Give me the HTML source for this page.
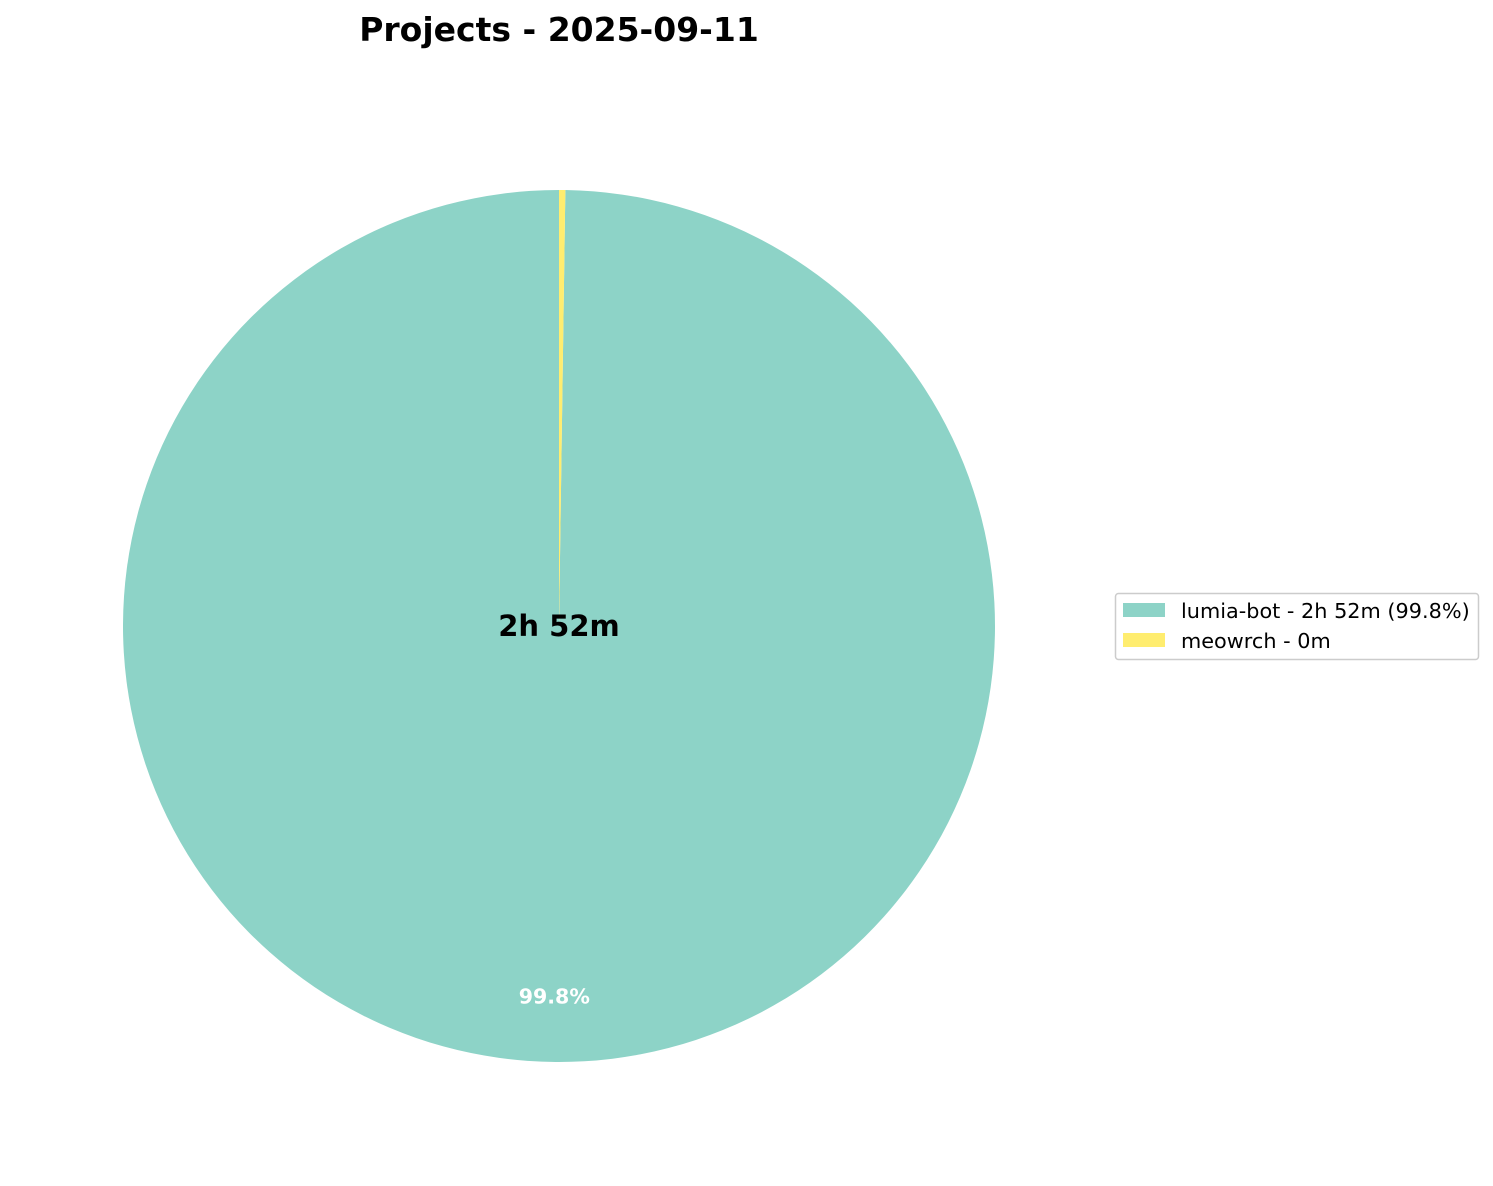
<!DOCTYPE html>
<html><head><meta charset="utf-8"><style>
body{margin:0;background:#fff;}
svg{display:block;font-family:"DejaVu Sans","Liberation Sans",sans-serif;}
</style></head><body>
<svg id="chart" width="1493" height="1186">
<text x="559" y="41" text-anchor="middle" font-size="33" font-weight="bold">Projects - 2025-09-11</text>
<g id="slices"></g>
<text x="559" y="636" text-anchor="middle" font-size="29" font-weight="bold">2h 52m</text>
<g>
<rect x="1115.5" y="593.5" width="363" height="66" rx="3" fill="#fff" stroke="#ccc" stroke-width="1.5"/>
<g id="legend-entries"></g>
</g>
</svg>
<script>
const labels=["lumia-bot","meowrch"];
const minutes=[172,0.4];
const legendTexts=["lumia-bot - 2h 52m (99.8%)","meowrch - 0m"];
const colors=["#8dd3c7","#ffed6f"];
const cx=559,cy=626,r=436;
const ns="http://www.w3.org/2000/svg";
const total=minutes.reduce((a,b)=>a+b,0);
const g=document.getElementById('slices');
let ang=90;
function pt(a,rr){const t=a*Math.PI/180;return [cx+rr*Math.cos(t),cy-rr*Math.sin(t)];}
minutes.forEach((v,i)=>{
  const sw=v/total*360;const a0=ang,a1=ang+sw;
  const p0=pt(a0,r),p1=pt(a1,r);
  const p=document.createElementNS(ns,'path');
  p.setAttribute('d',`M${cx},${cy} L${p0[0]},${p0[1]} A${r},${r} 0 ${sw>180?1:0} 0 ${p1[0]},${p1[1]} Z`);
  p.setAttribute('fill',colors[i]);
  
  
  g.appendChild(p);
  const pct=v/total*100;
  if(pct>=5){
    const m=pt((a0+a1)/2,r*0.85);
    const t=document.createElementNS(ns,'text');
    t.setAttribute('x',m[0]-2);t.setAttribute('y',m[1]+7);
    t.setAttribute('text-anchor','middle');t.setAttribute('font-size','20.5');
    t.setAttribute('font-weight','bold');t.setAttribute('fill','#fff');
    t.textContent=pct.toFixed(1)+'%';
    
    
    g.appendChild(t);
  }
  ang=a1;
});
const lg=document.getElementById('legend-entries');
legendTexts.forEach((s,i)=>{
  const y=603+i*30;
  const rc=document.createElementNS(ns,'rect');
  rc.setAttribute('x',1123);rc.setAttribute('y',y);rc.setAttribute('width',42);rc.setAttribute('height',14);
  rc.setAttribute('fill',colors[i]);
  
  
  lg.appendChild(rc);
  const t=document.createElementNS(ns,'text');
  t.setAttribute('x',1181);t.setAttribute('y',y+15);t.setAttribute('font-size','20.8');
  t.textContent=s;
  
  
  lg.appendChild(t);
});
</script>
</body></html>
